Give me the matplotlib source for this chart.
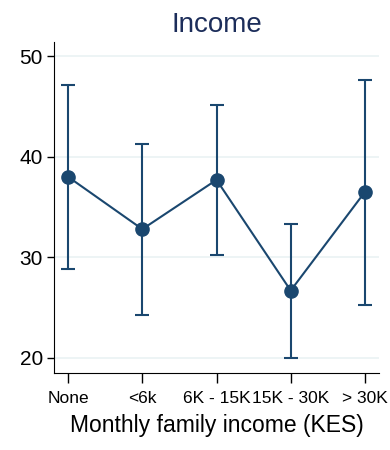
import matplotlib
matplotlib.use('Agg')
import matplotlib.pyplot as plt
import numpy as np

plt.rcParams['font.family'] = ['Liberation Sans', 'DejaVu Sans']

# income groups, means and 95% CI bounds
groups = ['None', '<6k', '6K - 15K', '15K - 30K', '> 30K']
means = [38.0, 32.8, 37.7, 26.7, 36.5]
upper = [47.1, 41.3, 45.1, 33.35, 47.6]
lower = [28.85, 24.3, 30.27, 20.0, 25.3]

navy = '#1a476f'
pos = np.arange(len(groups))
m = np.array(means)
err = [m - np.array(lower), np.array(upper) - m]

fig = plt.figure(figsize=(3.9, 4.5), dpi=100)
ax = fig.add_axes([0.1385, 0.1718, 0.8333, 0.7349])

for y in [20, 30, 40, 50]:
    ax.axhline(y, color='#eaf2f3', lw=1.2, zorder=0)

ax.errorbar(pos, means, yerr=err, color=navy, lw=1.5, elinewidth=1.5,
            capsize=5, capthick=1.5, marker='o', markersize=9.5, zorder=3)

ax.set_xlim(-0.19, 4.19)
ax.set_ylim(18.54, 51.4)
ax.set_yticks([20, 30, 40, 50])
ax.set_xticks(pos)
ax.set_xticklabels(groups, fontsize=12.5)
ax.tick_params(axis='y', labelsize=15, length=5, width=1, pad=3)
ax.tick_params(axis='x', length=7, width=1, pad=6)
ax.spines['top'].set_visible(False)
ax.spines['right'].set_visible(False)
ax.set_xlabel('Monthly family income (KES)', fontsize=16.5, labelpad=6)
ax.set_title('Income', fontsize=20, color='#1c2d5a', pad=7)

fig.savefig('out.png', dpi=100)
